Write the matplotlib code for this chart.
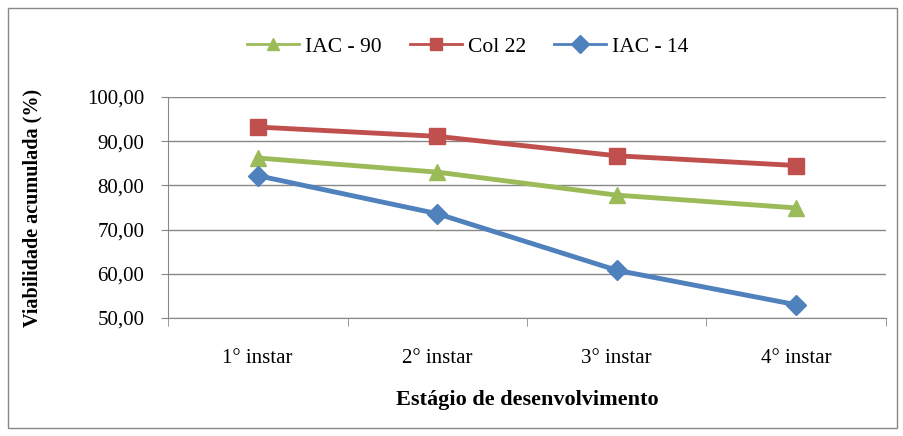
import matplotlib
matplotlib.use("Agg")
import matplotlib.pyplot as plt
from matplotlib.patches import Rectangle
from matplotlib.ticker import FuncFormatter
import numpy as np

plt.rcParams["font.family"] = ["Liberation Serif", "DejaVu Serif"]

stages = ["1° instar", "2° instar", "3° instar", "4° instar"]
iac90 = [86.2, 83.0, 77.8, 74.9]
col22 = [93.2, 91.1, 86.7, 84.5]
iac14 = [82.2, 73.6, 60.8, 53.0]

fig = plt.figure(figsize=(9.04, 4.36), dpi=100)
ax = fig.add_axes([168 / 904, 1 - 318 / 436, (886 - 168) / 904, (318 - 97) / 436])

# outer frame
fig.patches.append(Rectangle((8 / 904, 8 / 436), 889 / 904, 420 / 436, transform=fig.transFigure,
                             fill=False, edgecolor="#888888", linewidth=1))

x = np.arange(len(stages))
ax.plot(x, iac90, color="#9BBB59", linewidth=3.5, marker="^", markersize=12, label="IAC - 90")
ax.plot(x, col22, color="#C0504D", linewidth=3.5, marker="s", markersize=12, label="Col 22")
ax.plot(x, iac14, color="#4F81BD", linewidth=3.5, marker="D", markersize=10, label="IAC - 14")

ax.set_xlim(-0.5, len(stages) - 0.5)
ax.set_ylim(50, 100)
ax.set_yticks(np.arange(50, 101, 10))
ax.yaxis.set_major_formatter(FuncFormatter(lambda v, p: f"{v:.2f}".replace(".", ",")))
ax.set_xticks(x)
ax.set_xticklabels(stages)
ax.set_xticks(np.arange(-0.5, len(stages), 1), minor=True)
ax.tick_params(axis="x", which="major", length=0, pad=22, labelsize=15)
ax.tick_params(axis="x", which="minor", length=6, color="#888888")
ax.tick_params(axis="y", length=5, color="#888888", labelsize=15, pad=12)

ax.grid(axis="y", color="#888888", linewidth=1)
ax.set_axisbelow(True)
for side in ["top", "right"]:
    ax.spines[side].set_visible(False)
for side in ["left", "bottom"]:
    ax.spines[side].set_color("#888888")

ax.set_ylabel("Viabilidade acumulada (%)", fontsize=14.5, fontweight="bold", labelpad=32)
ax.set_xlabel("Estágio de desenvolvimento", fontsize=16, fontweight="bold", labelpad=16)

leg = fig.legend(handles=ax.get_lines(), loc="center", bbox_to_anchor=(468 / 904, 1 - 47 / 436), ncol=3,
                 frameon=False, fontsize=15.5, handlelength=2.4, columnspacing=1.3, handletextpad=0.3)
for h in leg.legend_handles:
    h.set_linewidth(2)
    h.set_markersize(9)

fig.savefig("out.png", dpi=100)
